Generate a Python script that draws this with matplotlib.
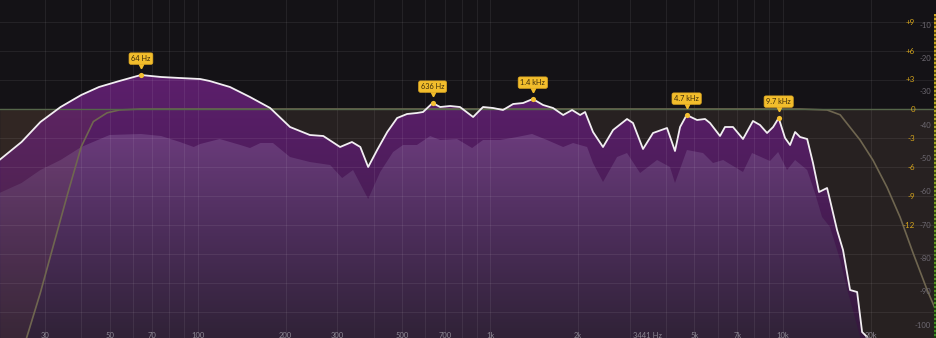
import numpy as np
import matplotlib
matplotlib.use("Agg")
import matplotlib.pyplot as plt
from matplotlib.colors import LinearSegmentedColormap
from matplotlib.patches import Polygon
from matplotlib.transforms import blended_transform_factory, offset_copy

plt.rcParams['font.family'] = ['Lato', 'DejaVu Sans']

# peak-hold spectrum (white outline), Hz / dB
peak_freq = [21, 25, 29, 34, 40, 46, 54, 64, 75, 87,
             102, 110, 129, 151, 177, 207, 242, 269, 307, 337,
             360, 383, 411, 445, 481, 520, 562, 590, 636, 675,
             730, 789, 875, 946, 1024, 1107, 1199, 1297, 1400, 1518,
             1642, 1778, 1907, 2032, 2113, 2249, 2433, 2634, 2939, 3081,
             3334, 3607, 4027, 4288, 4463, 4700, 5102, 5433, 5650, 6113,
             6356, 6770, 7325, 7924, 8375, 8853, 9285, 9700, 10200, 10610,
             11040, 11480, 12140, 12710, 13330, 14200, 14530, 15360, 16100, 17020,
             17990, 18710, 19460]
peak_db = [-50.5, -45.1, -39.1, -34.6, -31.0, -28.6, -26.8, -25.0, -25.6, -25.9,
           -26.2, -26.8, -28.6, -31.6, -34.9, -40.6, -43.0, -43.3, -46.6, -45.1,
           -46.6, -52.6, -47.5, -42.1, -37.9, -36.7, -36.4, -36.1, -33.4, -34.6,
           -34.3, -34.6, -37.6, -34.6, -34.9, -35.5, -33.7, -33.4, -32.2, -34.0,
           -34.9, -37.0, -35.5, -37.0, -36.1, -42.1, -46.6, -41.5, -38.2, -39.4,
           -47.2, -42.4, -40.9, -47.8, -40.6, -37.0, -38.5, -38.2, -39.4, -43.3,
           -40.6, -40.6, -44.2, -38.8, -40.0, -42.4, -40.6, -37.9, -43.9, -46.0,
           -42.1, -43.6, -44.2, -51.4, -60.1, -58.9, -62.5, -71.5, -77.5, -89.5,
           -90.1, -102.1, -103.6]

# average spectrum (light purple), Hz / dB
avg_freq = [21, 25, 29, 34, 40, 50, 64, 75, 87, 97,
            102, 119, 140, 151, 164, 181, 207, 242, 284, 312,
            340, 383, 421, 466, 504, 562, 624, 675, 771, 868,
            946, 1082, 1237, 1392, 1566, 1778, 1922, 2147, 2249, 2433,
            2718, 2939, 3258, 3724, 4123, 4288, 4710, 5348, 5785, 6265,
            7325, 7866, 9060, 9660, 10360, 11040, 12140, 12910, 13650, 14530,
            15740, 16750, 17290, 18410]
avg_db = [-60.4, -57.4, -53.5, -50.5, -46.6, -43.0, -42.7, -43.3, -45.1, -46.6,
          -45.7, -44.2, -46.0, -46.9, -45.4, -45.4, -49.6, -51.1, -52.0, -55.9,
          -53.5, -62.2, -54.1, -48.1, -46.0, -46.0, -43.3, -44.5, -44.2, -46.9,
          -44.5, -44.5, -43.6, -42.7, -44.5, -46.6, -45.4, -46.6, -51.4, -57.1,
          -49.6, -48.4, -54.4, -50.5, -52.6, -57.4, -47.5, -48.4, -51.4, -50.5,
          -54.1, -48.4, -50.8, -48.1, -53.5, -50.5, -53.5, -60.4, -67.6, -70.6,
          -80.5, -90.4, -94.6, -103.6]

# EQ curve (high pass + low pass), Hz / EQ gain dB
eq_freq = [24, 26, 29, 32, 36, 40, 44, 49, 54, 64,
           11480, 14200, 15740, 17020, 18410, 20390, 22770, 25240, 27950, 31200, 33740]
eq_gain = [-28.0, -23.7, -19.0, -14.3, -8.7, -3.9, -1.3, -0.4, -0.1, 0.0,
           0.0, -0.1, -0.6, -1.9, -3.2, -5.3, -8.1, -11.2, -14.9, -18.7, -21.1]

# peak markers
mark_freq = [64, 636, 1400, 4700, 9700]
mark_db = [-25.0, -33.4, -32.2, -37.0, -37.9]
mark_text = ["64 Hz", "636 Hz", "1.4 kHz", "4.7 kHz", "9.7 kHz"]

# axis labels
xtick_freq = [30, 50, 70, 100, 200, 300, 500, 700, 1000, 2000, 3441, 5000, 7000, 10000, 20000]
xtick_text = ["30", "50", "70", "100", "200", "300", "500", "700", "1k", "2k",
              "3441 Hz", "5k", "7k", "10k", "20k"]
eq_ticks = [9, 6, 3, 0, -3, -6, -9, -12]
eq_tick_text = ["+9", "+6", "+3", "0", "-3", "-6", "-9", "-12"]
spec_ticks = [-10, -20, -30, -40, -50, -60, -70, -80, -90, -100]

ZERO_DB = -35.2      # where EQ 0 dB sits on the spectrum scale
EQ_SCALE = 2.9       # spectrum dB per EQ dB
XMIN, XMAX = 21.1, 33740
YMIN, YMAX = -103.9, -2.5


def eq_to_spec(g):
    return ZERO_DB + np.asarray(g) * EQ_SCALE


def grad_fill(ax, xs, ys, colors, z):
    # vertical gradient image clipped to the area under a curve
    verts = [(xs[0], YMIN - 20)] + list(zip(xs, ys)) + [(xs[-1], YMIN - 20)]
    patch = Polygon(verts, closed=True, facecolor='none', edgecolor='none', transform=ax.transData)
    ax.add_patch(patch)
    cmap = LinearSegmentedColormap.from_list("g", colors)
    grad = np.linspace(0, 1, 256).reshape(-1, 1)
    im = ax.imshow(grad, extent=[0, 1, 0, 1], transform=ax.transAxes, aspect='auto',
                   cmap=cmap, origin='upper', zorder=z, interpolation='bilinear')
    im.set_clip_path(patch)


fig = plt.figure(figsize=(9.37, 3.38), dpi=100)
fig.patch.set_facecolor('#141216')
ax = fig.add_axes([0, 0, 1, 1])
ax.set_facecolor('#141216')
ax.set_xscale('log')

# area below the 0 dB line is a little lighter/brownish
ax.axhspan(YMIN, ZERO_DB, color='#272121', zorder=0)

grad_fill(ax, peak_freq, peak_db,
          [(0, '#681f78'), (0.35, '#561e65'), (0.6, '#4a1d57'), (1, '#35193d')], 1)
grad_fill(ax, avg_freq, avg_db,
          [(0, '#74428a'), (0.4, '#6a3b7b'), (0.7, '#4b2d59'), (1, '#302237')], 2)

# faint tint on the spectrum left of the high pass slope
eq_y = eq_to_spec(eq_gain)
ax.fill_betweenx([YMIN - 5] + list(eq_y[:9]), XMIN, [eq_freq[0]] + eq_freq[:9],
                 color='#8a5a3a', alpha=0.10, lw=0, zorder=3)

# grid
vgrid = [f * m for m in (10, 100, 1000) for f in range(1, 10)] + [10000, 20000]
vgrid = [v for v in vgrid if v >= 30]
for v in vgrid:
    ax.axvline(v, color='white', alpha=0.07, lw=0.8, zorder=4)
for g in range(9, -25, -3):
    if g != 0:
        ax.axhline(eq_to_spec(g), color='white', alpha=0.07, lw=0.8, zorder=4)

# EQ curve, 0 dB line and spectrum outline
ax.plot(eq_freq, eq_y, color='#6f6650', lw=1.2, zorder=5)
ax.axhline(ZERO_DB, color='#55664a', lw=1.0, zorder=5)
ax.plot(peak_freq, peak_db, color='#f2eef2', lw=1.3, zorder=6, solid_joinstyle='round')

# peak markers with labels
ax.scatter(mark_freq, mark_db, s=14, color='#f4c033', zorder=8, linewidths=0)
tri = offset_copy(ax.transData, fig=fig, x=0, y=6.3, units='points')
ax.plot(mark_freq, mark_db, ls='none', marker='v', ms=3.2, color='#f2bd2c',
        transform=tri, zorder=8)
for f, d, t in zip(mark_freq, mark_db, mark_text):
    ax.annotate(t, xy=(f, d), xytext=(0, 11.8), textcoords='offset points',
                ha='center', va='center', fontsize=5.3, color='#3b2a0a', zorder=9,
                bbox=dict(boxstyle='round,pad=0.3,rounding_size=0.25', fc='#f2bd2c', ec='#e0a922', lw=0.5))

# bottom frequency labels
bt = blended_transform_factory(ax.transData, ax.transAxes)
for f, t in zip(xtick_freq, xtick_text):
    ax.text(f, 0.008, t, transform=bt, ha='center', va='center', fontsize=5.5,
            color='#8c8792', zorder=7)

# right-hand scales
rt = blended_transform_factory(ax.transAxes, ax.transData)
for g, t in zip(eq_ticks, eq_tick_text):
    ax.text(915 / 937, eq_to_spec(g), t, transform=rt, ha='right', va='center',
            fontsize=5.8, color='#d6a51c', zorder=7)
for s in spec_ticks:
    ax.text(931 / 937, s, str(s), transform=rt, ha='right', va='center',
            fontsize=5.5, color='#6e6a72', zorder=7)

ax.set_xlim(XMIN, XMAX)
ax.set_ylim(YMIN, YMAX)
ax.axis('off')

# level meter strip on the far right
mx = fig.add_axes([934 / 937, 0, 3 / 937, 324 / 338])
mcmap = LinearSegmentedColormap.from_list("m", ['#d0a820', '#b0ad25', '#6a9c25', '#3c8a22'])
rows = np.linspace(0, 1, 162).reshape(-1, 1)
rgb = mcmap(rows)
rgb[1::2, :, :3] *= 0.45
mx.imshow(rgb, aspect='auto', interpolation='nearest')
mx.axis('off')

fig.savefig("out.png", dpi=100, facecolor=fig.get_facecolor())
